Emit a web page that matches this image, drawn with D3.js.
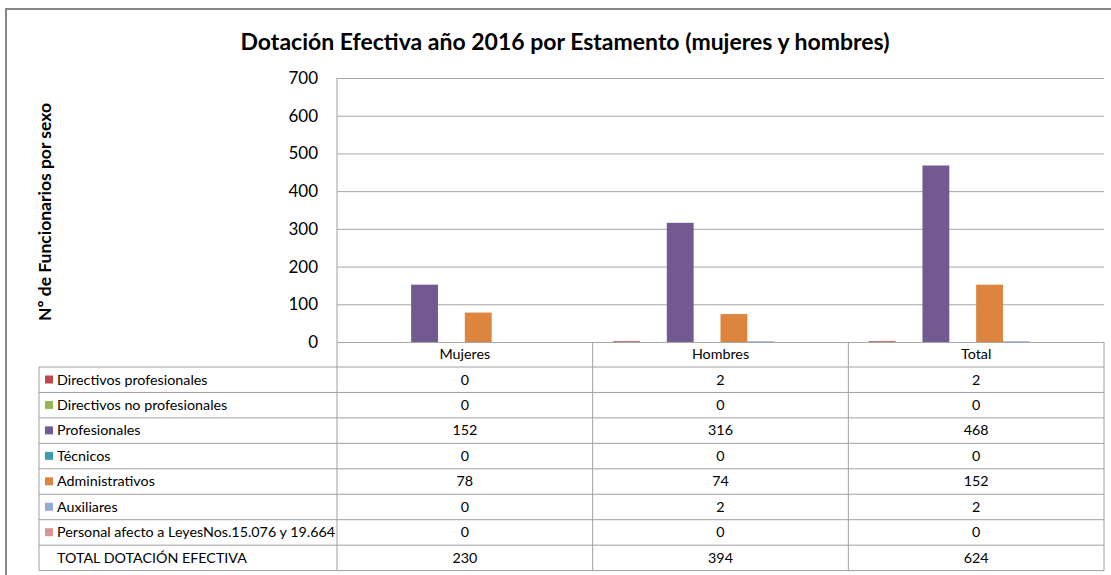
<!DOCTYPE html>
<html>
<head>
<meta charset="utf-8">
<script src="https://cdn.jsdelivr.net/npm/d3@7"></script>
<style>
  body { margin: 0; background: #fff; }
  text { font-family: Lato, "Liberation Sans", sans-serif; fill: #000; }
</style>
</head>
<body>
<div id="chart"></div>
<script>
/**
 * Basic Settings
 */
const categories = ['Mujeres', 'Hombres', 'Total'];
const seriesNames = [
  'Directivos profesionales',
  'Directivos no profesionales',
  'Profesionales',
  'Técnicos',
  'Administrativos',
  'Auxiliares',
  'Personal afecto a LeyesNos.15.076 y 19.664',
  'TOTAL DOTACIÓN EFECTIVA'
];
const seriesValues = [
  [0, 2, 2],
  [0, 0, 0],
  [152, 316, 468],
  [0, 0, 0],
  [78, 74, 152],
  [0, 2, 2],
  [0, 0, 0],
  [230, 394, 624]
];
// last series (total) has no fill in the original chart
const colorPlatte = ['#BC4A48', '#96B656', '#725A91', '#3F9DB3', '#DD843E', '#93ACD6', '#D99594', 'none'];
const yTicks = [0, 100, 200, 300, 400, 500, 600, 700];

const canvasWidth = 1111;
const canvasHeight = 575;
const plot = { left: 337, right: 1104, top: 78, bottom: 342 };
const table = { left: 39, top: 367, rowH: 25.45 };

const svg = d3.select('#chart')
  .append('svg')
  .attr('width', canvasWidth)
  .attr('height', canvasHeight);

// outer frame
svg.append('rect')
  .attr('x', 6).attr('y', 9)
  .attr('width', 1200).attr('height', 700)
  .attr('fill', 'none')
  .attr('stroke', '#868686')
  .attr('stroke-width', 2);

// title
svg.append('text')
  .attr('x', 565).attr('y', 50)
  .attr('text-anchor', 'middle')
  .style('font-size', '23px')
  .style('font-weight', 'bold')
  .text('Dotación Efectiva año 2016 por Estamento (mujeres y hombres)');

// y-axis title
svg.append('text')
  .attr('transform', 'translate(51, 212) rotate(-90)')
  .attr('text-anchor', 'middle')
  .style('font-size', '17.5px')
  .style('font-weight', 'bold')
  .text('Nº de Funcionarios por sexo');

/**
 * Scales
 */
const x = d3.scaleBand()
  .domain(categories)
  .range([plot.left, plot.right]);

const xInner = d3.scaleBand()
  .domain(d3.range(seriesNames.length))
  .range([0, x.bandwidth()])
  .paddingOuter(0.76);

const y = d3.scaleLinear()
  .domain([0, 700])
  .range([plot.bottom, plot.top]);

// gridlines
svg.append('g')
  .attr('transform', `translate(${plot.left}, 0)`)
  .call(d3.axisLeft(y).tickValues(yTicks).tickSize(-(plot.right - plot.left)).tickFormat(''))
  .call(g => g.select('.domain').remove())
  .call(g => g.selectAll('line').attr('stroke', '#A6A6A6'));

// tick labels
svg.append('g')
  .selectAll('text')
  .data(yTicks)
  .join('text')
  .attr('x', 318)
  .attr('y', d => y(d) + 6)
  .attr('text-anchor', 'end')
  .style('font-size', '17px')
  .text(d => d);

// bars
const g = svg.append('g')
  .selectAll('g.series')
  .data(seriesValues)
  .join('g')
  .classed('series', true)
  .style('fill', (d, i) => colorPlatte[i]);

g.selectAll('rect')
  .data((d, i) => d.map((v, j) => ({ v: v, s: i, c: categories[j] })))
  .join('rect')
  .attr('x', d => x(d.c) + xInner(d.s))
  .attr('y', d => y(d.v))
  .attr('width', xInner.bandwidth())
  .attr('height', d => y(0) - y(d.v));

/**
 * Data table
 */
const lineColor = '#A0A0A0';
const tableBottom = table.top + seriesNames.length * table.rowH;
const lines = svg.append('g').attr('stroke', lineColor).attr('stroke-width', 1);

// plot left axis down through the table
lines.append('line')
  .attr('x1', plot.left).attr('x2', plot.left)
  .attr('y1', plot.top).attr('y2', tableBottom);

// category column separators
categories.slice(1).concat(['end']).forEach(c => {
  const xx = c === 'end' ? plot.right : x(c);
  lines.append('line')
    .attr('x1', xx).attr('x2', xx)
    .attr('y1', plot.bottom).attr('y2', tableBottom);
});

// left border of label column
lines.append('line')
  .attr('x1', table.left).attr('x2', table.left)
  .attr('y1', table.top).attr('y2', tableBottom);

// horizontal rows
d3.range(seriesNames.length + 1).forEach(i => {
  const yy = table.top + i * table.rowH;
  lines.append('line')
    .attr('x1', table.left).attr('x2', plot.right)
    .attr('y1', yy).attr('y2', yy);
});

// category header labels
svg.append('g')
  .selectAll('text')
  .data(categories)
  .join('text')
  .attr('x', d => x(d) + x.bandwidth() / 2)
  .attr('y', plot.bottom + 17)
  .attr('text-anchor', 'middle')
  .style('font-size', '14.3px')
  .text(d => d);

// row labels and legend keys
const rows = svg.append('g')
  .selectAll('g.row')
  .data(seriesNames)
  .join('g')
  .classed('row', true)
  .attr('transform', (d, i) => `translate(0, ${table.top + i * table.rowH})`);

rows.filter((d, i) => colorPlatte[i] !== 'none')
  .append('rect')
  .attr('x', 45).attr('y', 8.5)
  .attr('width', 8).attr('height', 8)
  .attr('fill', d => colorPlatte[seriesNames.indexOf(d)]);

rows.append('text')
  .attr('x', 57)
  .attr('y', 17.5)
  .style('font-size', '14.3px')
  .text(d => d);

rows.selectAll('text.val')
  .data((d, i) => seriesValues[i].map((v, j) => ({ v: v, c: categories[j] })))
  .join('text')
  .classed('val', true)
  .attr('x', d => x(d.c) + x.bandwidth() / 2)
  .attr('y', 17.5)
  .attr('text-anchor', 'middle')
  .style('font-size', '14.3px')
  .text(d => d.v);
</script>
</body>
</html>
